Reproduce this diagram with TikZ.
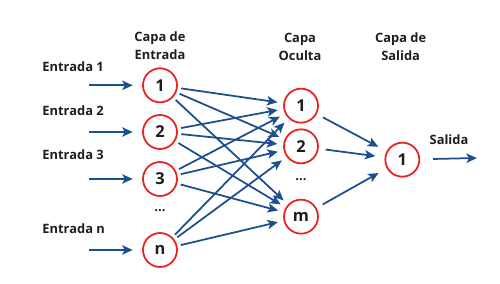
\documentclass[tikz,border=0pt]{standalone}
\usepackage{fontspec}
\setmainfont{Open Sans}
\usepackage{xcolor}
\usetikzlibrary{arrows.meta, positioning}

\definecolor{netblue}{HTML}{1D4F8F}
\definecolor{netred}{HTML}{E8231F}
\definecolor{nettext}{HTML}{1E1E1E}

\begin{document}
\begin{tikzpicture}[
    neuron/.style={draw=netred, circle, line width=1.5pt, minimum size=1.02cm, inner sep=0pt, fill=white, font=\fontsize{14}{16}\selectfont\bfseries, text=nettext},
    layertitle/.style={align=center, font=\fontsize{11}{15.5}\selectfont\bfseries, text=nettext},
    inlabel/.style={anchor=west, font=\fontsize{11}{13}\selectfont\bfseries, text=nettext},
    dots/.style={font=\fontsize{11}{13}\selectfont\bfseries, text=nettext},
    arr/.style={-{Stealth[length=9pt, width=8pt, inset=2.2pt]}, line width=1.5pt, draw=netblue},
]
\useasboundingbox (0, 0) rectangle (15, 8.52);

% Layer titles
\node[layertitle] (titlein) at (4.8, 7.14) {Capa de\\Entrada};
\node[layertitle] (titlehid) at (9.0, 7.12) {Capa\\Oculta};
\node[layertitle] (titleout) at (12.02, 7.12) {Capa de\\Salida};

% Input layer
\node[neuron] (in1) at (4.8, 5.96) {1};
\node[neuron] (in2) at (4.8, 4.56) {2};
\node[neuron] (in3) at (4.8, 3.15) {3};
\node[dots] (indots) at (4.8, 2.2) {...};
\node[neuron] (inn) at (4.8, 1.02) {n};

% Hidden layer
\node[neuron] (hid1) at (9.03, 5.35) {1};
\node[neuron] (hid2) at (9.03, 4.13) {2};
\node[dots] (hiddots) at (9.03, 3.12) {...};
\node[neuron] (hidm) at (9.03, 2.02) {m};

% Output layer
\node[neuron] (out1) at (12.07, 3.73) {1};

% Input labels and arrows
\node[inlabel] (lab1) at (1.15, 6.52) {Entrada 1};
\node[inlabel] (lab2) at (1.15, 5.19) {Entrada 2};
\node[inlabel] (lab3) at (1.15, 3.87) {Entrada 3};
\node[inlabel] (labn) at (1.15, 1.67) {Entrada n};
\foreach \i/\y in {1/5.96, 2/4.56, 3/3.15, n/1.02} {
    \coordinate (src\i) at (2.67, \y);
    \draw[arr, shorten >=8pt] (src\i) -- (in\i);
}

% Input to hidden connections
\foreach \i in {1, 2, 3, n} {
    \foreach \j in {1, 2, m} {
        \draw[arr, shorten <=3pt, shorten >=5pt] (in\i) -- (hid\j);
    }
}

% Hidden to output connections
\foreach \j in {1, 2, m} {
    \draw[arr, shorten <=6pt, shorten >=8pt] (hid\j) -- (out1);
}

% Output
\node[inlabel, anchor=center] (labout) at (13.47, 4.34) {Salida};
\coordinate (dst) at (14.31, 3.78);
\draw[arr, shorten <=11pt] (out1) -- (dst);

\end{tikzpicture}
\end{document}
